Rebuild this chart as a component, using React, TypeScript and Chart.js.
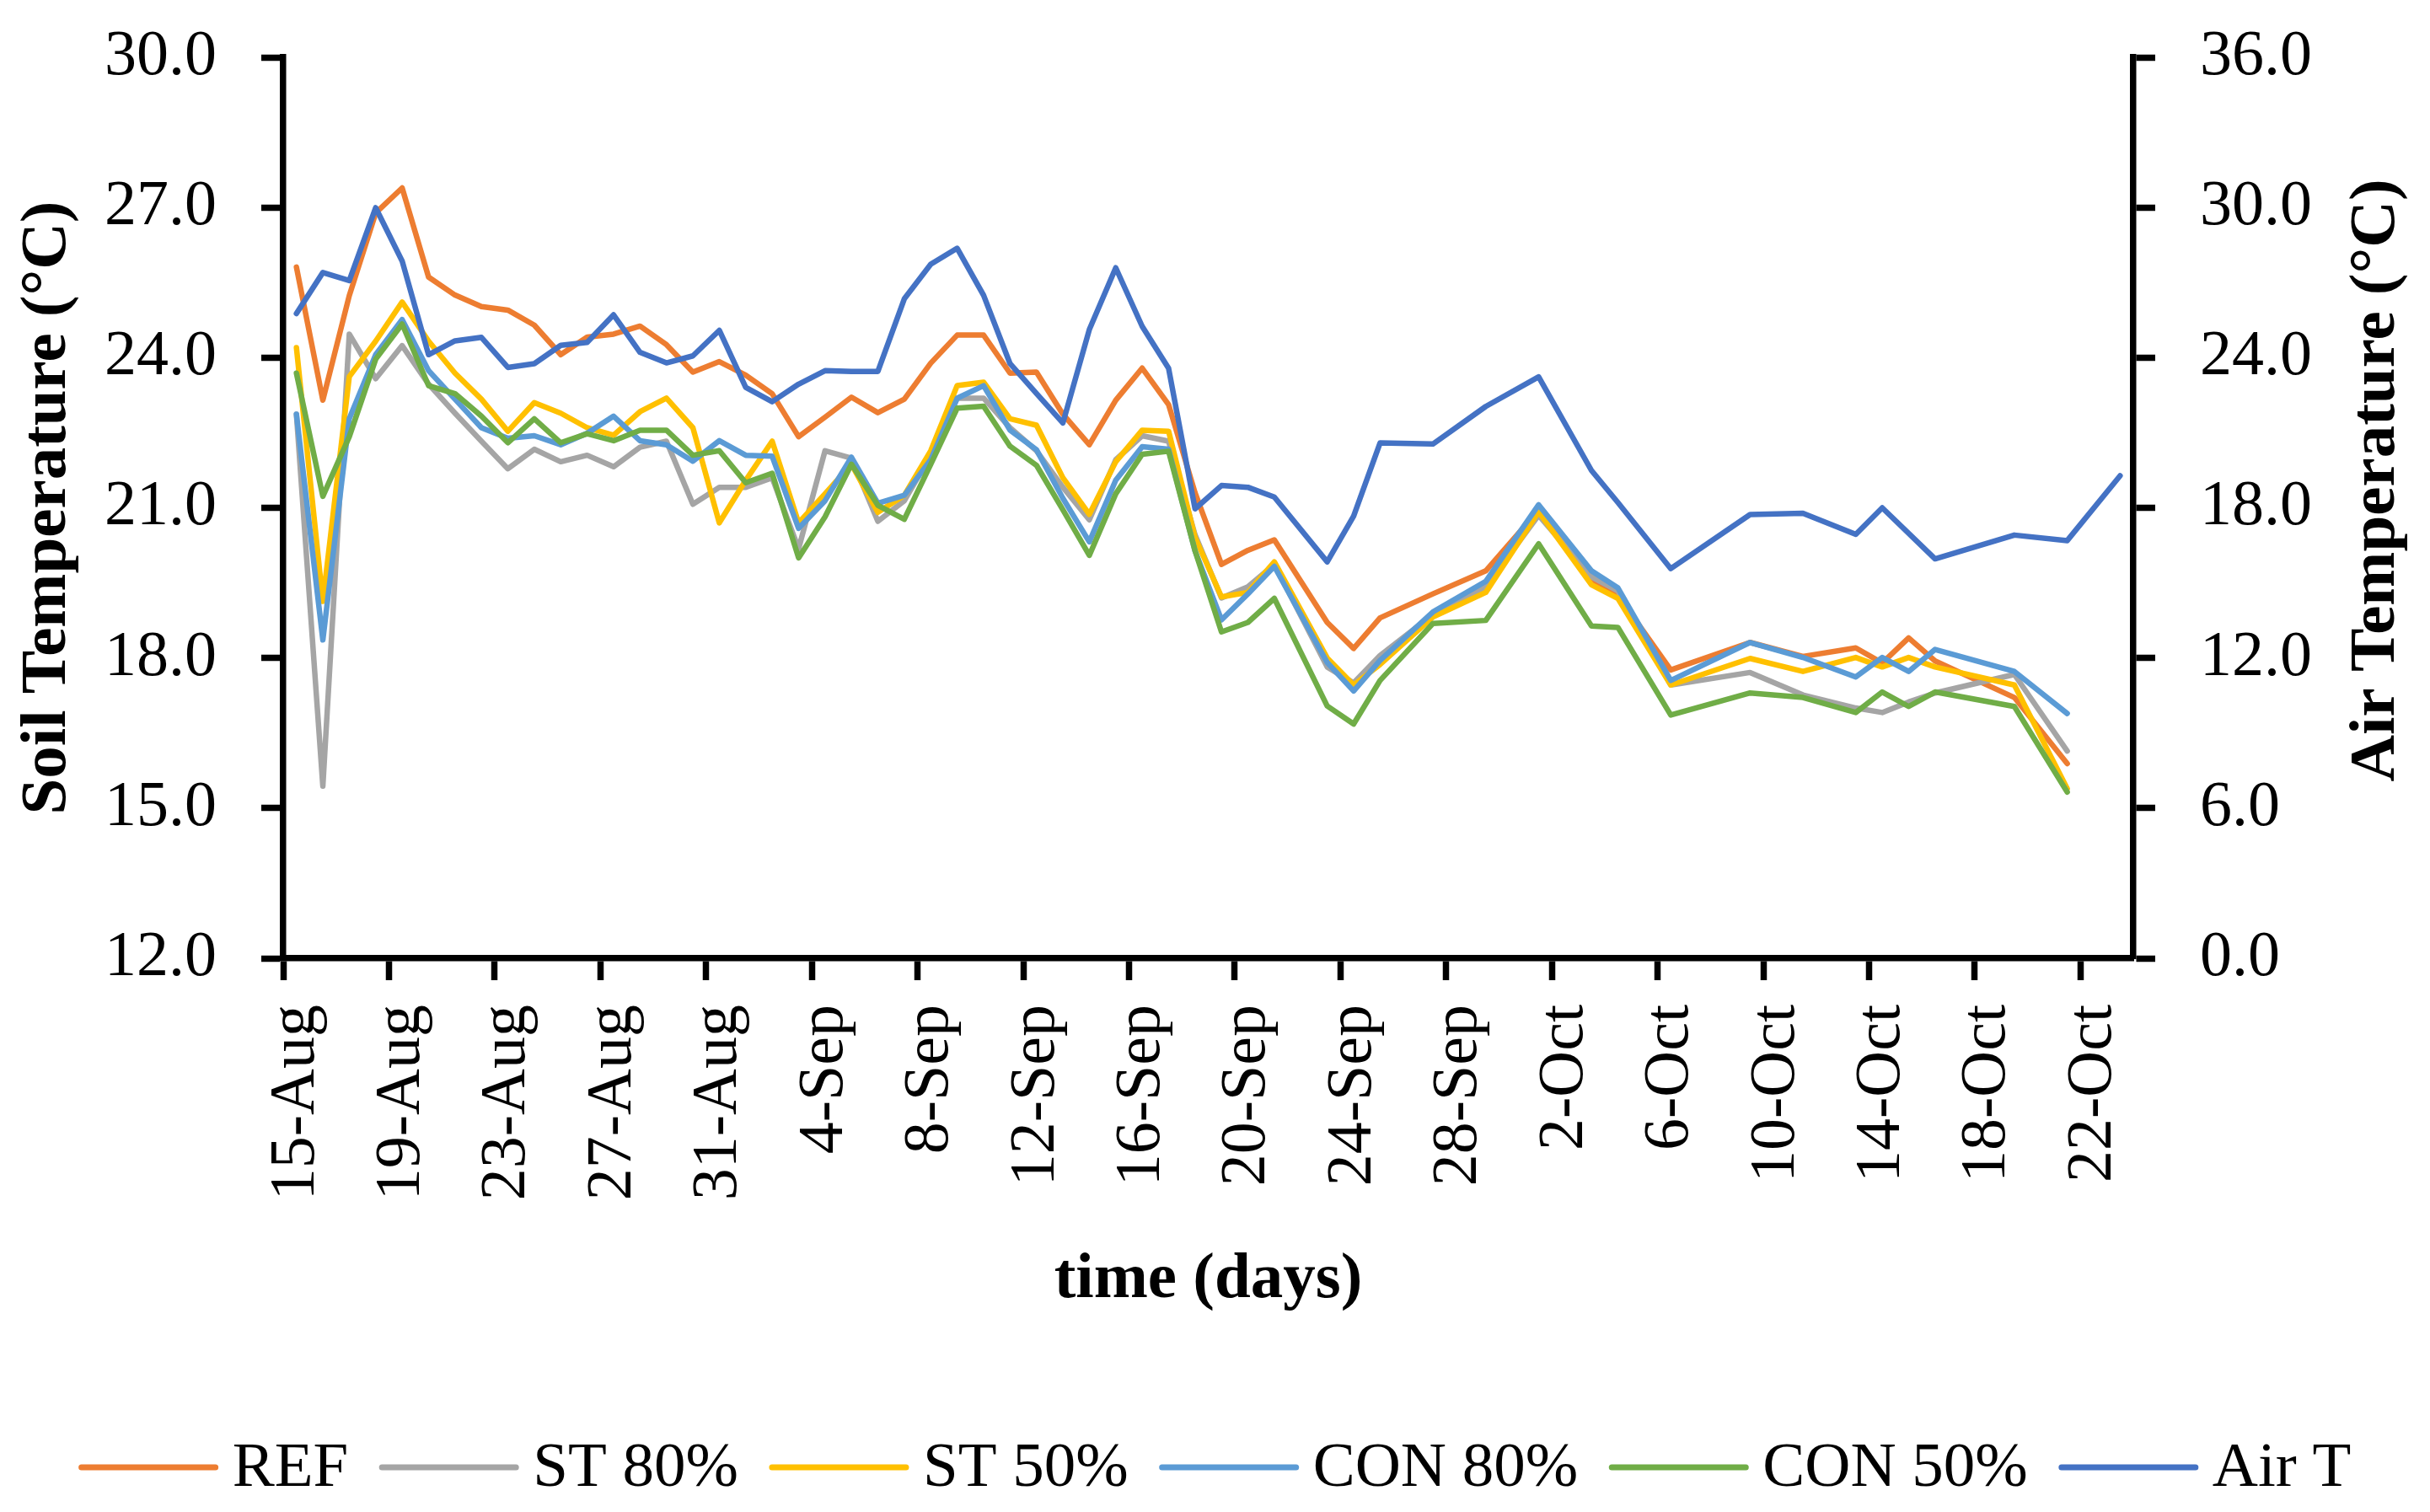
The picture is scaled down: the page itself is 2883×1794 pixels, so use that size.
import React, { useEffect, useRef } from 'react';
import { Chart, registerables } from 'chart.js';

Chart.register(...registerables);

const FONT = "'Liberation Serif', 'Times New Roman', serif";

// one category per day, 15-Aug to 23-Oct
const days = [
  '15-Aug', '16-Aug', '17-Aug', '18-Aug', '19-Aug', '20-Aug', '21-Aug', '22-Aug', '23-Aug', '24-Aug',
  '25-Aug', '26-Aug', '27-Aug', '28-Aug', '29-Aug', '30-Aug', '31-Aug',
  '1-Sep', '2-Sep', '3-Sep', '4-Sep', '5-Sep', '6-Sep', '7-Sep', '8-Sep', '9-Sep', '10-Sep',
  '11-Sep', '12-Sep', '13-Sep', '14-Sep', '15-Sep', '16-Sep', '17-Sep', '18-Sep', '19-Sep', '20-Sep',
  '21-Sep', '22-Sep', '23-Sep', '24-Sep', '25-Sep', '26-Sep', '27-Sep', '28-Sep', '29-Sep', '30-Sep',
  '1-Oct', '2-Oct', '3-Oct', '4-Oct', '5-Oct', '6-Oct', '7-Oct', '8-Oct', '9-Oct', '10-Oct',
  '11-Oct', '12-Oct', '13-Oct', '14-Oct', '15-Oct', '16-Oct', '17-Oct', '18-Oct', '19-Oct', '20-Oct',
  '21-Oct', '22-Oct', '23-Oct',
];

// soil temperature (°C), null = no reading that day
const ref: (number | null)[] = [
  25.81, 23.15, 25.24, 26.89, 27.39, 25.61, 25.25, 25.02, 24.95, 24.65,
  24.06, 24.41, 24.47, 24.63, 24.26, 23.71, 23.92,
  23.65, 23.28, 22.42, 22.81, 23.21, 22.90, 23.17, 23.89, 24.45, 24.45,
  23.69, 23.71, 22.87, 22.26, 23.15, 23.79, 23.06, 21.30, 19.87, 20.15,
  20.36, null, 18.71, 18.19, 18.80, null, 19.28, null, 19.74, null,
  20.95, null, 19.55, 19.25, null, 17.76, null, null, 18.31, null,
  18.03, null, 18.20, 17.90, 18.40, 17.94, null, null, 17.21, null,
  15.89, null, null,
];

const st80: (number | null)[] = [
  22.87, 15.44, 24.47, 23.58, 24.24, 23.47, 22.89, 22.33, 21.78, 22.17,
  21.92, 22.05, 21.82, 22.21, 22.33, 21.07, 21.41,
  21.41, 21.60, 20.18, 22.14, 21.99, 20.73, 21.14, 22.05, 23.19, 23.19,
  22.60, 22.14, 21.41, 20.76, 21.96, 22.44, 22.33, 20.46, 19.20, 19.42,
  19.87, null, 17.82, 17.50, 18.05, null, 18.87, null, 19.42, null,
  20.85, null, 19.62, 19.34, null, 17.46, null, null, 17.71, null,
  17.26, null, 17.00, 16.91, 17.12, 17.30, null, null, 17.67, null,
  16.14, null, null,
];

const st50: (number | null)[] = [
  24.20, 19.13, 23.62, 24.33, 25.11, 24.33, 23.69, 23.17, 22.53, 23.10,
  22.89, 22.60, 22.45, 22.92, 23.19, 22.60, 20.70,
  21.55, 22.33, 20.70, 21.28, 21.87, 20.91, 21.25, 22.14, 23.44, 23.51,
  22.78, 22.65, 21.60, 20.87, 21.92, 22.55, 22.53, 20.41, 19.22, 19.31,
  19.92, null, 18.00, 17.46, 17.87, null, 18.82, null, 19.31, null,
  20.92, null, 19.46, 19.19, null, 17.46, null, null, 17.99, null,
  17.73, null, 18.01, 17.82, 18.01, 17.82, null, null, 17.46, null,
  15.39, null, null,
];

const con80: (number | null)[] = [
  22.87, 18.36, 22.78, 24.06, 24.76, 23.74, 23.17, 22.60, 22.39, 22.44,
  22.26, 22.49, 22.83, 22.34, 22.26, 21.93, 22.34,
  22.05, 22.03, 20.59, 21.14, 22.01, 21.09, 21.25, 21.96, 23.19, 23.44,
  22.55, 22.16, 21.19, 20.32, 21.55, 22.22, 22.17, 20.14, 18.76, 19.28,
  19.83, null, 17.91, 17.34, 17.95, null, 18.92, null, 19.53, null,
  21.06, null, 19.74, 19.40, null, 17.55, null, null, 18.31, null,
  18.01, null, 17.62, 18.01, 17.73, 18.17, null, null, 17.73, null,
  16.89, null, null,
];

const con50: (number | null)[] = [
  23.69, 21.23, 22.42, 23.97, 24.67, 23.44, 23.28, 22.83, 22.30, 22.78,
  22.30, 22.48, 22.34, 22.55, 22.55, 22.05, 22.14,
  21.50, 21.69, 20.00, 20.82, 21.87, 21.05, 20.77, 21.87, 22.99, 23.03,
  22.23, 21.85, 20.96, 20.05, 21.28, 22.07, 22.13, 20.14, 18.52, 18.71,
  19.19, null, 17.04, 16.68, 17.55, null, 18.69, null, 18.75, null,
  20.28, null, 18.64, 18.61, null, 16.86, null, null, 17.30, null,
  17.21, null, 16.91, 17.32, 17.03, 17.32, null, null, 17.03, null,
  15.32, null, null,
];

// air temperature (°C), right axis
const airT: (number | null)[] = [
  25.76, 27.40, 27.08, 29.99, 27.86, 24.12, 24.67, 24.81, 23.61, 23.76,
  24.49, 24.61, 25.71, 24.21, 23.79, 24.07, 25.09,
  22.81, 22.24, 22.94, 23.48, 23.45, 23.45, 26.35, 27.73, 28.37, 26.49,
  23.76, 22.57, 21.39, 25.12, 27.59, 25.25, 23.57, 17.96, 18.89, 18.82,
  18.43, null, 15.84, 17.67, 20.59, null, 20.55, null, 22.05, null,
  23.23, null, 19.49, 18.21, null, 15.57, null, null, 17.73, null,
  17.78, null, 16.94, 18.00, null, 15.96, null, null, 16.91, null,
  16.69, null, 19.28,
];

const seriesNames = ['REF', 'ST 80%', 'ST 50%', 'CON 80%', 'CON 50%', 'Air T'];
const seriesColors = ['#ED7D31', '#A5A5A5', '#FFC000', '#5B9BD5', '#70AD47', '#4472C4'];
const seriesData = [ref, st80, st50, con80, con50, airT];

// draws the bottom legend and the right axis title (which reads bottom to top)
const extrasPlugin = {
  id: 'extras',
  afterDraw(chart: Chart) {
    const { ctx, chartArea } = chart;
    ctx.save();

    ctx.font = `bold 77px ${FONT}`;
    ctx.fillStyle = '#000';
    ctx.textAlign = 'center';
    ctx.textBaseline = 'middle';
    ctx.translate(chartArea.right + 289, chartArea.top + 502);
    ctx.rotate(-Math.PI / 2);
    ctx.fillText('Air Temperature (°C)', 0, 0);
    ctx.setTransform(1, 0, 0, 1, 0, 0);

    const lineLen = 165;
    const gap = 17;
    const itemGap = 37;
    const lineY = 1741;
    const textY = 1763;
    ctx.font = `75px ${FONT}`;
    ctx.textAlign = 'left';
    ctx.textBaseline = 'alphabetic';
    const widths = seriesNames.map((n) => ctx.measureText(n).width);
    const total = widths.reduce((a, w) => a + lineLen + gap + w, 0) + itemGap * (seriesNames.length - 1);
    let x = (chart.width - total) / 2;
    seriesNames.forEach((name, i) => {
      ctx.strokeStyle = seriesColors[i];
      ctx.lineWidth = 7;
      ctx.lineCap = 'round';
      ctx.beginPath();
      ctx.moveTo(x + 3, lineY);
      ctx.lineTo(x + lineLen - 3, lineY);
      ctx.stroke();
      x += lineLen + gap;
      ctx.fillStyle = '#000';
      ctx.fillText(name, x, textY);
      x += widths[i] + itemGap;
    });
    ctx.restore();
  },
};

// fixed axis sizes so the plot area sits where it does in the source
const fixWidth = (w: number) => (s: any) => {
  s.width = w;
  s.paddingTop = 0;
  s.paddingBottom = 0;
};

const App: React.FC = () => {
  const chartRef = useRef<HTMLCanvasElement>(null);
  const chartInstance = useRef<Chart>();

  useEffect(() => {
    if (!chartRef.current) return;
    const ctx = chartRef.current.getContext('2d');
    if (!ctx) return;
    if (chartInstance.current) chartInstance.current.destroy();

    const axisFont = { family: FONT, size: 76 };
    const titleFont = { family: FONT, size: 77, weight: 'bold' as const };

    chartInstance.current = new Chart(ctx, {
      type: 'line',
      data: {
        labels: days,
        datasets: seriesNames.map((name, i) => ({
          label: name,
          data: seriesData[i],
          borderColor: seriesColors[i],
          backgroundColor: seriesColors[i],
          borderWidth: 6.5,
          borderCapStyle: 'round' as const,
          borderJoinStyle: 'round' as const,
          pointRadius: 0,
          pointHoverRadius: 0,
          tension: 0,
          fill: false,
          spanGaps: true,
          yAxisID: i === 5 ? 'y2' : 'y',
          order: 6 - i, // later series drawn on top, as in the source
        })),
      },
      options: {
        animation: false,
        responsive: true,
        maintainAspectRatio: false,
        layout: { padding: { top: 68, bottom: 200, left: 0, right: 0 } },
        plugins: {
          legend: { display: false },
          tooltip: { enabled: false },
        },
        scales: {
          x: {
            type: 'category',
            offset: true,
            grid: {
              offset: true,
              drawOnChartArea: false,
              tickLength: 26,
              tickWidth: 7.5,
              tickColor: (c: any) => (c.index !== undefined && c.index % 4 === 0 ? '#000' : 'rgba(0,0,0,0)'),
            },
            border: { display: true, color: '#000', width: 7.5 },
            ticks: {
              autoSkip: false,
              minRotation: 90,
              maxRotation: 90,
              padding: 29,
              color: '#000',
              font: axisFont,
              callback: (_v: any, i: number) => (i % 4 === 0 ? days[i] : ''),
            },
            title: {
              display: true,
              text: 'time (days)',
              color: '#000',
              font: titleFont,
              padding: { top: 0, bottom: 29 },
            },
            afterFit: (s: any) => {
              s.height = 457;
            },
          },
          y: {
            position: 'left',
            min: 12,
            max: 30,
            grid: { drawOnChartArea: false, tickLength: 26, tickWidth: 7.5, tickColor: '#000' },
            border: { display: true, color: '#000', width: 7.5 },
            ticks: {
              stepSize: 3,
              padding: 53,
              color: '#000',
              font: axisFont,
              callback: (v: any) => Number(v).toFixed(1),
            },
            title: {
              display: true,
              text: 'Soil Temperature (°C)',
              color: '#000',
              font: titleFont,
              padding: { top: 11, bottom: 0 },
            },
            afterFit: fixWidth(336),
          },
          y2: {
            position: 'right',
            min: 0,
            max: 36,
            grid: { drawOnChartArea: false, tickLength: 26, tickWidth: 7.5, tickColor: '#000' },
            border: { display: true, color: '#000', width: 7.5 },
            ticks: {
              stepSize: 6,
              padding: 53,
              color: '#000',
              font: axisFont,
              callback: (v: any) => Number(v).toFixed(1),
            },
            afterFit: fixWidth(352),
          },
        },
      },
      plugins: [extrasPlugin],
    });

    return () => {
      if (chartInstance.current) {
        chartInstance.current.destroy();
        chartInstance.current = undefined;
      }
    };
  }, []);

  return (
    <div style={{ position: 'fixed', left: 0, top: 0, width: 2883, height: 1794, background: '#fff' }}>
      <canvas ref={chartRef}></canvas>
    </div>
  );
};

export default App;
